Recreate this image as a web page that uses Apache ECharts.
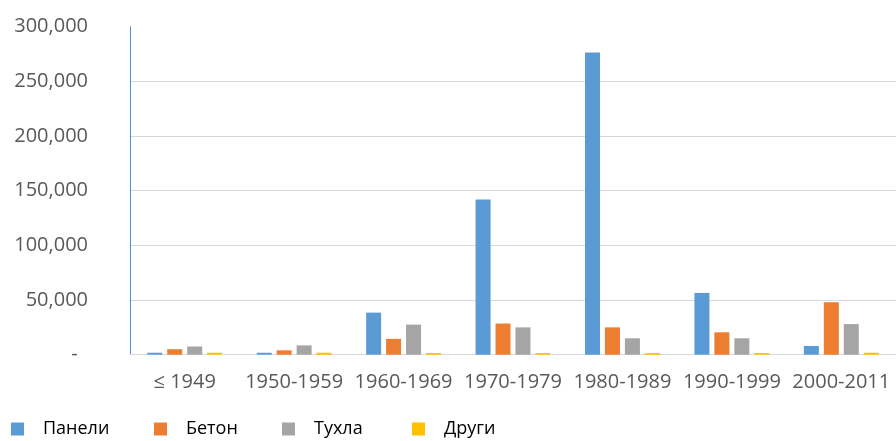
<!DOCTYPE html>
<html>
<head>
    <meta charset="utf-8" />
    <title></title>
    <script src="https://cdn.jsdelivr.net/npm/echarts@6/dist/echarts.min.js"></script>
    <style>
        html, body { margin: 0; padding: 0; background: #fff; }
    </style>
</head>
<body>
    <div id="main" style="width: 896px;height:441px;"></div>
<script type="text/javascript">
    var categories = ['≤ 1949', '1950-1959', '1960-1969', '1970-1979', '1980-1989', '1990-1999', '2000-2011'];
    var seriesNames = ['Панели', 'Бетон', 'Тухла', 'Други'];
    var panels = [1800, 1800, 38500, 142000, 276500, 56500, 8000];
    var concrete = [5000, 4000, 14500, 28500, 25000, 20500, 48000];
    var brick = [7500, 8500, 27500, 25000, 15000, 15000, 28000];
    var other = [1800, 1800, 1500, 1500, 1500, 1500, 1800];
    var colors = ['#5B9BD5', '#ED7D31', '#A5A5A5', '#FFC000'];
    var legendLeft = [6, 149, 277, 407];

    var myChart = echarts.init(document.getElementById('main'));

    // Excel-like accounting format: 0 shown as a dash
    function fmt(v) {
        if (v === 0) return '-  ';
        return String(v).replace(/\B(?=(\d{3})+(?!\d))/g, ',');
    }

    var values = [panels, concrete, brick, other];
    var series = seriesNames.map(function (name, i) {
        return {
            name: name,
            type: 'bar',
            data: values[i],
            barWidth: 15,
            barGap: '33%',
            itemStyle: { color: colors[i] }
        };
    });

    var legends = seriesNames.map(function (name, i) {
        return {
            data: [name],
            left: legendLeft[i],
            top: 415,
            icon: 'rect',
            itemWidth: 13,
            itemHeight: 13,
            textStyle: {
                color: '#000',
                fontSize: 18,
                fontFamily: 'Open Sans',
                padding: [0, 0, 0, 14]
            }
        };
    });

    var option = {
        animation: false,
        color: colors,
        legend: legends,
        grid: {
            left: 130,
            top: 26.7,
            width: 775,
            height: 328
        },
        xAxis: {
            type: 'category',
            data: categories,
            axisLine: { lineStyle: { color: '#d9d9d9' } },
            axisTick: { show: false },
            axisLabel: {
                color: '#595959',
                fontSize: 20,
                fontFamily: 'Open Sans',
                margin: 18,
                interval: 0
            }
        },
        yAxis: {
            type: 'value',
            min: 0,
            max: 300000,
            interval: 50000,
            axisLine: { show: true, lineStyle: { color: '#4a90d9' } },
            axisTick: { show: false },
            splitLine: { show: true, showMaxLine: false, lineStyle: { color: '#d9d9d9' } },
            axisLabel: {
                color: '#595959',
                fontSize: 20,
                fontFamily: 'Open Sans',
                margin: 42,
                formatter: fmt
            }
        },
        series: series
    };

    myChart.setOption(option);
</script>
</body>
</html>
